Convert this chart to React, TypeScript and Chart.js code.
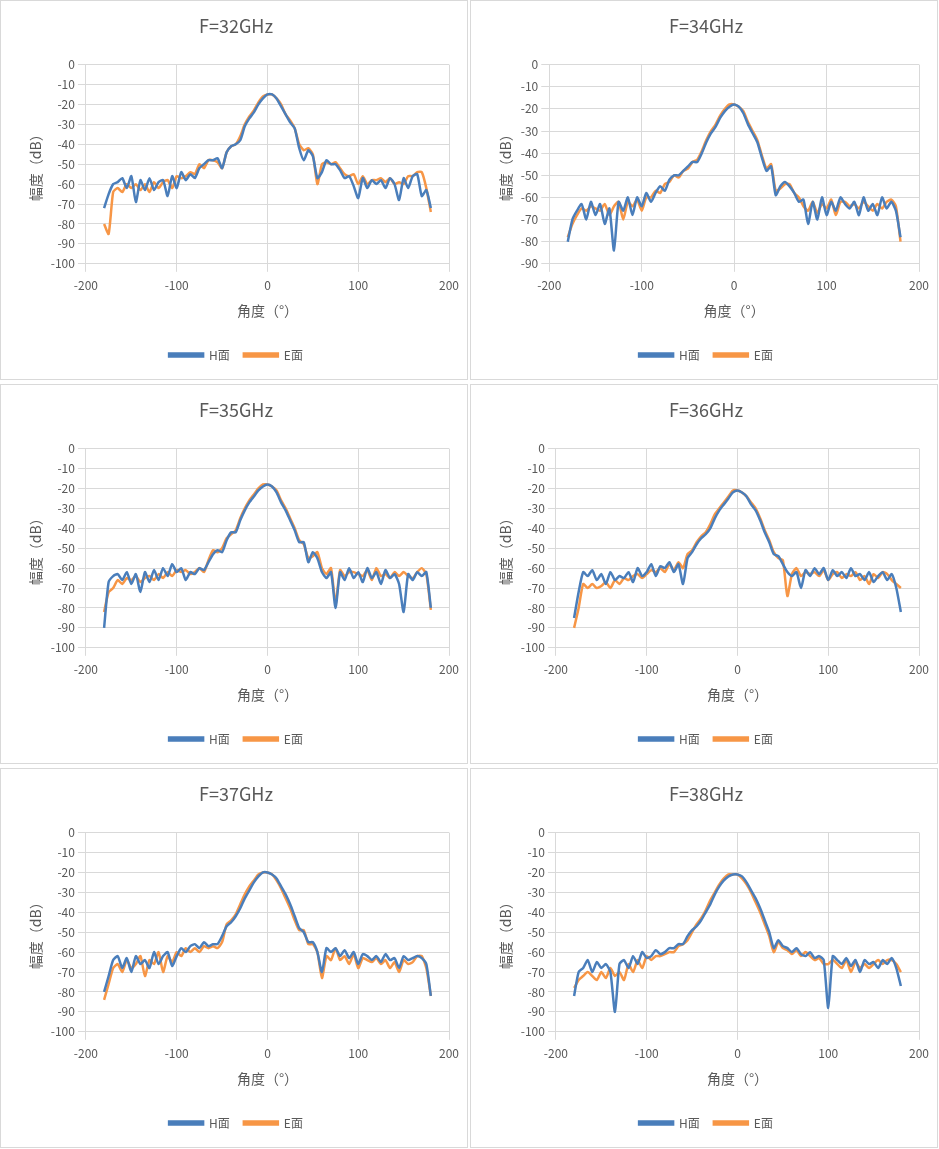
import React, { useEffect, useRef } from "react";
import { Chart, registerables } from "chart.js";
Chart.register(...registerables);

const angles: number[] = [];
for (let a = -180; a <= 180; a += 5) angles.push(a);

const titles = ["F=32GHz", "F=34GHz", "F=35GHz", "F=36GHz", "F=37GHz", "F=38GHz"];
const yMins = [-100, -90, -100, -100, -100, -100];

const h32 = [-72,-65,-60,-59,-57,-62,-56,-69,-58,-63,-57,-63,-59,-58,-66,-56,-62,-54,-58,-55,-57,-52,-50,-48,-48,-47,-52,-44,-41,-40,-38,-31,-27,-24,-20,-17,-15,-15,-17,-21,-25,-29,-32,-42,-48,-43,-46,-57,-54,-48,-50,-50,-53,-57,-56,-61,-67,-57,-62,-58,-60,-58,-62,-57,-60,-68,-57,-62,-56,-55,-66,-63,-72];
const e32 = [-80,-85,-64,-62,-64,-60,-62,-60,-63,-60,-64,-59,-62,-59,-58,-62,-56,-57,-56,-54,-55,-50,-52,-48,-48,-49,-52,-44,-41,-40,-36,-30,-26,-23,-19,-16,-15,-15,-17,-20,-25,-28,-32,-40,-43,-42,-45,-60,-50,-49,-50,-49,-52,-55,-56,-55,-60,-56,-60,-58,-58,-57,-59,-57,-60,-59,-60,-56,-56,-54,-54,-62,-74];
const h34 = [-80,-70,-66,-63,-70,-62,-68,-63,-72,-65,-84,-62,-66,-60,-68,-60,-64,-58,-62,-58,-55,-57,-52,-50,-50,-48,-46,-44,-44,-40,-35,-31,-28,-24,-21,-19,-18,-19,-22,-27,-31,-35,-42,-48,-46,-59,-55,-53,-55,-58,-62,-61,-72,-62,-70,-60,-68,-62,-66,-60,-63,-65,-62,-68,-60,-66,-63,-68,-60,-65,-62,-66,-78];
const e34 = [-78,-72,-68,-65,-66,-64,-65,-66,-63,-68,-64,-62,-70,-62,-64,-61,-66,-60,-60,-57,-58,-54,-53,-50,-51,-48,-47,-44,-43,-39,-34,-30,-27,-23,-20,-18,-18,-19,-21,-26,-30,-34,-41,-47,-45,-57,-56,-54,-54,-58,-60,-64,-66,-62,-67,-63,-65,-61,-68,-62,-62,-64,-63,-65,-62,-64,-66,-63,-65,-62,-61,-64,-80];
const h35 = [-90,-67,-64,-63,-66,-62,-68,-63,-72,-62,-67,-61,-66,-60,-64,-58,-62,-60,-66,-62,-63,-60,-61,-57,-53,-51,-52,-46,-42,-42,-36,-31,-27,-24,-21,-19,-18,-19,-22,-27,-31,-36,-41,-47,-47,-57,-52,-55,-62,-65,-62,-80,-62,-66,-60,-65,-62,-67,-60,-65,-62,-68,-61,-65,-63,-68,-82,-63,-66,-62,-64,-62,-80];
const e35 = [-82,-72,-70,-66,-68,-65,-66,-64,-67,-65,-64,-66,-63,-65,-62,-64,-61,-62,-61,-63,-62,-60,-62,-56,-51,-52,-50,-45,-43,-41,-35,-30,-26,-23,-20,-18,-18,-19,-21,-26,-30,-35,-40,-46,-48,-55,-54,-52,-60,-63,-60,-78,-61,-64,-62,-62,-63,-64,-61,-66,-60,-64,-63,-65,-62,-64,-62,-64,-65,-62,-60,-63,-81];
const h36 = [-85,-72,-62,-64,-61,-66,-63,-68,-62,-66,-64,-65,-62,-67,-60,-64,-62,-58,-64,-59,-60,-57,-62,-58,-68,-55,-52,-48,-45,-43,-40,-35,-31,-28,-25,-22,-21,-22,-24,-28,-31,-36,-42,-47,-53,-54,-58,-62,-64,-62,-70,-61,-64,-60,-63,-60,-66,-61,-64,-62,-65,-60,-64,-63,-66,-62,-67,-64,-62,-66,-63,-70,-82];
const e36 = [-90,-80,-68,-70,-68,-70,-69,-67,-70,-66,-68,-65,-66,-64,-63,-65,-63,-61,-62,-60,-62,-58,-61,-57,-60,-53,-51,-47,-44,-42,-38,-33,-30,-27,-24,-21,-21,-22,-24,-27,-30,-35,-41,-46,-52,-55,-56,-74,-63,-60,-64,-62,-63,-62,-64,-61,-66,-63,-62,-65,-63,-64,-62,-66,-64,-68,-63,-65,-62,-63,-66,-68,-70];
const h37 = [-80,-72,-64,-62,-68,-63,-70,-62,-66,-64,-68,-60,-66,-62,-60,-67,-62,-58,-60,-57,-56,-58,-55,-57,-56,-56,-52,-47,-45,-42,-38,-33,-29,-25,-22,-20,-20,-21,-23,-27,-31,-36,-42,-48,-50,-55,-55,-60,-70,-58,-60,-58,-62,-59,-63,-60,-66,-61,-62,-64,-62,-65,-61,-64,-63,-68,-62,-64,-63,-62,-63,-66,-82];
const e37 = [-84,-76,-68,-66,-70,-64,-68,-66,-62,-72,-64,-66,-60,-70,-62,-65,-60,-62,-58,-60,-58,-60,-57,-58,-57,-58,-55,-46,-44,-41,-36,-31,-27,-24,-21,-20,-20,-21,-24,-28,-33,-38,-44,-49,-49,-56,-56,-60,-73,-62,-64,-58,-64,-62,-66,-61,-68,-63,-64,-65,-63,-66,-64,-68,-65,-70,-64,-66,-65,-62,-62,-68,-82];
const h38 = [-82,-70,-68,-64,-70,-65,-68,-66,-70,-90,-66,-64,-68,-62,-66,-60,-63,-62,-59,-61,-60,-58,-58,-56,-56,-52,-49,-47,-44,-40,-36,-31,-27,-24,-22,-21,-21,-22,-25,-29,-33,-38,-44,-50,-58,-54,-57,-58,-60,-58,-61,-62,-60,-63,-62,-64,-88,-62,-64,-66,-63,-67,-64,-70,-64,-66,-65,-68,-64,-66,-63,-68,-77];
const e38 = [-78,-74,-72,-70,-72,-74,-70,-73,-68,-72,-70,-74,-66,-70,-64,-68,-62,-64,-62,-62,-61,-60,-60,-57,-56,-54,-50,-46,-43,-39,-34,-30,-26,-23,-21,-21,-21,-23,-26,-30,-35,-40,-46,-52,-60,-55,-58,-59,-61,-59,-62,-60,-62,-64,-63,-66,-66,-64,-66,-68,-64,-70,-65,-68,-66,-68,-66,-64,-66,-64,-64,-66,-70];

const hSeries = [h32, h34, h35, h36, h37, h38];
const eSeries = [e32, e34, e35, e36, e37, e38];

const BLUE = "#4a7ebb";
const ORANGE = "#f79646";
const FONT = "'Noto Sans CJK SC', 'Noto Sans', sans-serif";
const GREY = "#595959";

function Panel({ idx }: { idx: number }) {
  const ref = useRef<HTMLCanvasElement>(null);
  useEffect(() => {
    const mk = (d: number[]) => d.map((y, i) => ({ x: angles[i], y }));
    const chart = new Chart(ref.current!, {
      type: "line",
      data: {
        datasets: [
          { label: "H面", data: mk(hSeries[idx]), borderColor: BLUE, backgroundColor: BLUE, borderWidth: 2.5, pointRadius: 0, tension: 0.2 },
          { label: "E面", data: mk(eSeries[idx]), borderColor: ORANGE, backgroundColor: ORANGE, borderWidth: 2.5, pointRadius: 0, tension: 0.2 },
        ],
      },
      options: {
        animation: false,
        responsive: false,
        layout: { padding: { left: 22, right: 18, top: 4, bottom: 8 } },
        plugins: {
          title: { display: true, text: titles[idx], color: GREY, font: { family: FONT, size: 18, weight: "normal" }, padding: { top: 10, bottom: 28 } },
          legend: {
            position: "bottom",
            labels: { color: GREY, font: { family: FONT, size: 12 }, boxWidth: 34, boxHeight: 3, padding: 14 },
          },
          tooltip: { enabled: false },
        },
        scales: {
          x: {
            type: "linear", min: -200, max: 200,
            ticks: { stepSize: 100, color: GREY, font: { family: FONT, size: 12 }, padding: 6 },
            grid: { color: "#d9d9d9" }, border: { color: "#d9d9d9" },
            title: { display: true, text: "角度（°）", color: GREY, font: { family: FONT, size: 14 }, padding: { top: 4, bottom: 16 } },
          },
          y: {
            min: yMins[idx], max: 0,
            ticks: { stepSize: 10, color: GREY, font: { family: FONT, size: 12 } },
            grid: { color: "#d9d9d9" }, border: { display: false },
            title: { display: true, text: "幅度（dB）", color: GREY, font: { family: FONT, size: 14 } },
          },
        },
      },
    });
    return () => chart.destroy();
  }, [idx]);
  const col = idx % 2, row = Math.floor(idx / 2);
  return (
    <div style={{ position: "absolute", left: col === 0 ? 0 : 470, top: row * 384, width: 466, height: 378, border: "1px solid #d9d9d9", background: "#fff" }}>
      <canvas ref={ref} width={466} height={378} />
    </div>
  );
}

export default function App() {
  useEffect(() => { document.body.style.margin = "0"; }, []);
  return (
    <div style={{ position: "relative", width: 939, height: 1149 }}>
      {[0, 1, 2, 3, 4, 5].map((i) => <Panel key={i} idx={i} />)}
    </div>
  );
}
